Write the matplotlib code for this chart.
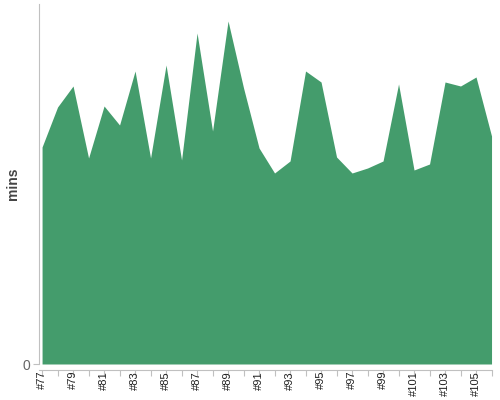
import matplotlib
matplotlib.use("Agg")
import matplotlib.pyplot as plt

builds = [f"#{n}" for n in range(77, 107)]
mins = [21.7, 25.7, 27.8, 20.6, 25.8, 23.9, 29.3, 20.6, 29.9, 20.4,
        33.1, 23.3, 34.3, 27.6, 21.6, 19.1, 20.3, 29.3, 28.2, 20.7,
        19.1, 19.6, 20.3, 28.0, 19.4, 20.0, 28.2, 27.8, 28.7, 22.8]

plt.rcParams['font.family'] = ['Liberation Sans', 'DejaVu Sans']
fig = plt.figure(figsize=(5, 4), dpi=100)
ax = fig.add_axes([38.5/500, 36/400, (492-38.5)/500, 360/400])

for s in ['top', 'right']:
    ax.spines[s].set_visible(False)
ax.spines['left'].set_color('#c0c0c0')
ax.spines['bottom'].set_color('#c0c0c0')
ax.spines['bottom'].set_position(('outward', 4))

x = list(range(len(builds)))
ax.fill_between(x, mins, 0, color='#449c6c', linewidth=0)
ax.set_xlim(-0.23, len(builds) - 1 + 0.03)
ax.set_ylim(0, 36)

ax.set_yticks([0])
ax.set_yticklabels(['0'], fontsize=10, color='#666666')
ax.set_xticks(x)
ax.set_xticklabels([b if i % 2 == 0 else '' for i, b in enumerate(builds)],
                   rotation=90, fontsize=8, color='#222222', va='top', ha='center')
ax.tick_params(axis='x', length=4, color='#c0c0c0', pad=-3)
ax.tick_params(axis='y', length=4, color='#c0c0c0', pad=2)

ax.set_ylabel('mins', fontsize=10, fontweight='bold', color='#444444')
ax.yaxis.set_label_coords(-19/453.5, 0.5)

fig.savefig('out.png', dpi=100)
